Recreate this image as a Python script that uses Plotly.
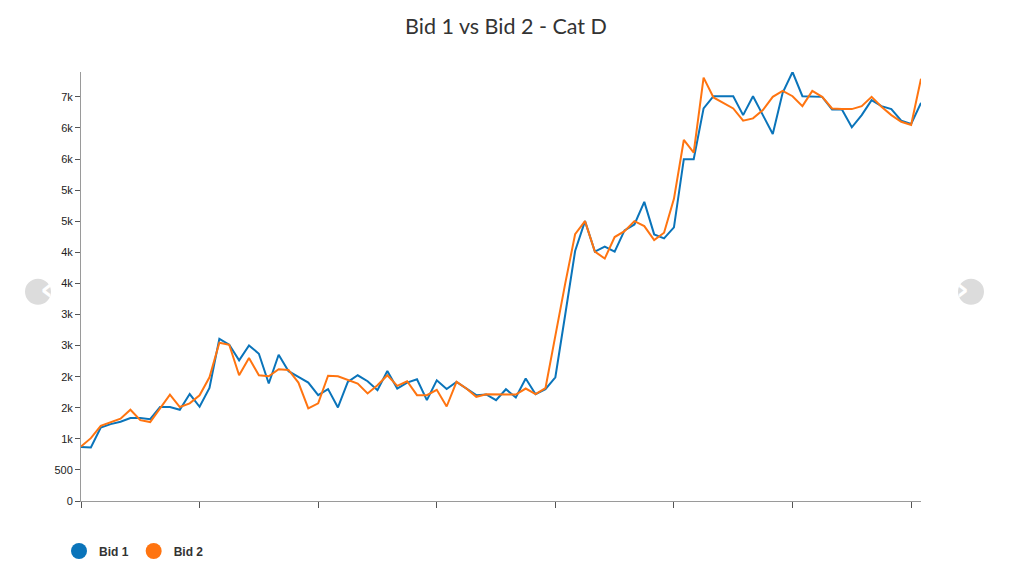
import plotly.graph_objects as go

periods = list(range(86))

bid1 = [870, 860, 1183, 1237, 1274, 1333, 1333, 1317, 1511, 1511,
        1468, 1720, 1516, 1820, 2609, 2513, 2263, 2502, 2369, 1890,
        2353, 2087, 1996, 1905, 1703, 1800, 1505, 1916, 2022, 1926,
        1782, 2091, 1809, 1905, 1958, 1622, 1942, 1800, 1916, 1809,
        1702, 1713, 1622, 1798, 1665, 1969, 1718, 1798, 1990, 3000,
        4020, 4501, 4011, 4091, 4011, 4352, 4448, 4811, 4288, 4224,
        4400, 5498, 5498, 6314, 6511, 6511, 6511, 6207, 6511, 6207,
        5903, 6564, 6900, 6511, 6511, 6500, 6298, 6298, 6010, 6207,
        6447, 6351, 6303, 6117, 6063, 6404]

bid2 = [876, 1011, 1210, 1263, 1323, 1468, 1301, 1269, 1484, 1710,
        1511, 1570, 1700, 1990, 2545, 2513, 2023, 2300, 2023, 2007,
        2119, 2108, 1905, 1490, 1570, 2015, 2006, 1942, 1889, 1729,
        1862, 2022, 1852, 1926, 1702, 1702, 1788, 1520, 1916, 1809,
        1676, 1718, 1718, 1718, 1713, 1809, 1718, 1815, 2690, 3500,
        4290, 4501, 4011, 3899, 4245, 4341, 4501, 4421, 4198, 4315,
        4860, 5807, 5605, 6809, 6490, 6404, 6314, 6117, 6154, 6287,
        6500, 6596, 6511, 6351, 6596, 6500, 6314, 6303, 6303, 6351,
        6500, 6340, 6207, 6100, 6047, 6793]

series_names = ["Bid 1", "Bid 2"]
series_colors = ["#0a74ba", "#ff7410"]

y_tickvals = [0, 500, 1000, 1500, 2000, 2500, 3000, 3500, 4000, 4500, 5000, 5500, 6000, 6500]
y_ticktext = ["0", "500", "1k", "2k", "2k", "3k", "3k", "4k", "4k", "5k", "5k", "6k", "6k", "7k"]
x_tickvals = [0, 12, 24, 36, 48, 60, 72, 84]

fig = go.Figure()
for name, vals, col in zip(series_names, [bid1, bid2], series_colors):
    fig.add_trace(go.Scatter(x=periods, y=vals, mode="lines", name=name,
                             line=dict(color=col, width=2), showlegend=False,
                             hoverinfo="x+y"))
    fig.add_trace(go.Scatter(x=[None], y=[None], mode="markers", name=name,
                             marker=dict(color=col, size=16, symbol="circle"),
                             showlegend=True))

ymax = max(max(bid1), max(bid2))

# page body has an 8px offset; plot area on screen spans x 81..921, y 72..501.5
fig.update_layout(
    width=1027, height=575,
    margin=dict(l=73, r=114, t=64, b=82),
    paper_bgcolor="white", plot_bgcolor="white",
    title=dict(text="Bid 1 vs Bid 2 - Cat D", x=498 / 1027, xref="container",
               xanchor="center", y=1 - 18 / 575, yref="container", yanchor="middle",
               font=dict(family="Lato, Open Sans, sans-serif", size=21.5, color="#333333")),
    xaxis=dict(range=[0, len(periods) - 1], tickvals=x_tickvals,
               ticktext=[""] * len(x_tickvals), showgrid=False, zeroline=False,
               showline=True, linecolor="#9a9a9a", linewidth=1,
               ticks="outside", ticklen=6, tickcolor="#555555"),
    yaxis=dict(range=[0, ymax], tickvals=y_tickvals, ticktext=y_ticktext,
               showgrid=False, zeroline=False, showline=True, linecolor="#9a9a9a",
               linewidth=1, ticks="outside", ticklen=5, tickcolor="#555555",
               tickfont=dict(family="Liberation Sans, Arial, sans-serif", size=11, color="#222222")),
    legend=dict(orientation="h", xref="container", yref="container",
                x=51 / 1027, y=(575 - 543) / 575, xanchor="left", yanchor="middle",
                font=dict(family="Liberation Sans, Arial, sans-serif", size=12,
                          color="#333333", weight="bold"),
                itemwidth=30, tracegroupgap=0, itemsizing="trace"),
    showlegend=True,
)

# carousel arrows of the surrounding page (screen coords -> paper)
for cx, ch in [(38, "‹"), (971, "›")]:
    fig.add_shape(type="circle", xref="paper", yref="paper",
                  x0=(cx - 13 - 81) / 840, x1=(cx + 13 - 81) / 840,
                  y0=(501.5 - 292 - 13) / 429.5, y1=(501.5 - 292 + 13) / 429.5,
                  fillcolor="#dcdcdc", line=dict(width=0), layer="above")
    fig.add_annotation(x=(cx - 81) / 840, y=(501.5 - 292) / 429.5, xref="paper", yref="paper",
                       text="<b>" + ch + "</b>", showarrow=False,
                       font=dict(size=32, color="white", family="DejaVu Sans"),
                       yshift=3)

fig.write_html("out.html")
